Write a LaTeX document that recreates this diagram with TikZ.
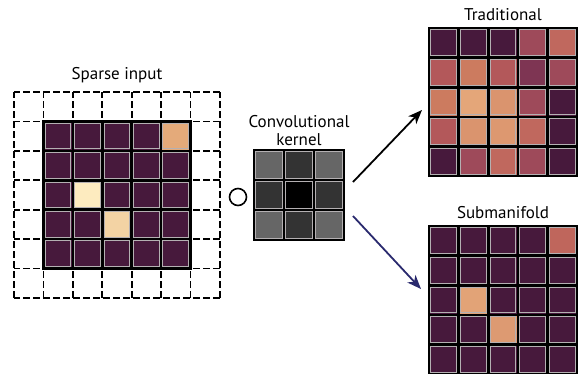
\documentclass[tikz,border=0pt]{standalone}
\usepackage{fontspec}
\setmainfont{PT Sans}
\usetikzlibrary{arrows.meta}
\definecolor{dp}{HTML}{47193C}
\definecolor{sorange}{HTML}{E4AA7A}
\definecolor{syellow}{HTML}{FDEBBF}
\definecolor{speach}{HTML}{F3D3A4}
\definecolor{ta}{HTML}{9E4A5A}
\definecolor{tb}{HTML}{C0685E}
\definecolor{tc}{HTML}{B3585A}
\definecolor{td}{HTML}{CC7B5F}
\definecolor{te}{HTML}{7E3553}
\definecolor{tf}{HTML}{E4A679}
\definecolor{tg}{HTML}{DA946E}
\definecolor{th}{HTML}{DD9870}
\definecolor{ma}{HTML}{BF665C}
\definecolor{mb}{HTML}{E2A377}
\definecolor{mc}{HTML}{DD9A72}
\definecolor{kg}{HTML}{666666}
\definecolor{kd}{HTML}{333333}
\definecolor{cellgray}{HTML}{B4B0B2}
\definecolor{navy}{HTML}{2A2A6E}
\tikzset{
  cellborder/.style={draw=cellgray, line width=1pt},
  gridline/.style={line width=2.6pt, black, line cap=rect},
  dashgrid/.style={line width=1.8pt, black, dash pattern=on 6.5pt off 3.5pt, dash phase=1pt},
  lbl/.style={font=\fontsize{17}{19}\selectfont, inner sep=0pt},
  arr/.style={line width=1.8pt, -{Stealth[length=14pt,width=11pt,inset=4pt]}}
}
\newcommand\cellgrid[5]{% x0, y0, size, n, colours row-major
  \foreach \c [count=\k from 0] in {#5} {
    \pgfmathtruncatemacro\ix{mod(\k,#4)}
    \pgfmathtruncatemacro\iy{div(\k,#4)}
    \fill[\c] ({#1+\ix*#3},{#2+\iy*#3}) rectangle ++(#3,#3);
    \draw[cellborder] ({#1+\ix*#3+1.9},{#2+\iy*#3+1.9}) rectangle ++({#3-3.8},{#3-3.8});
  }
  \foreach \i in {0,...,#4} {
    \draw[gridline] ({#1+\i*#3},#2) -- ({#1+\i*#3},{#2+#4*#3});
    \draw[gridline] (#1,{#2+\i*#3}) -- ({#1+#4*#3},{#2+\i*#3});
  }
}
\begin{document}
\begin{tikzpicture}[x=1pt,y=-1pt]
\useasboundingbox (0,0) rectangle (579,373);
% sparse input dashed frame
\foreach \i in {0,...,7} {
  \draw[dashgrid] ({14+\i*29.4},92) -- ({14+\i*29.4},297.8);
  \draw[dashgrid] (14,{92+\i*29.4}) -- (219.8,{92+\i*29.4});
}
\cellgrid{43.4}{121.4}{29.4}{5}{dp,dp,dp,dp,sorange,
  dp,dp,dp,dp,dp,
  dp,syellow,dp,dp,dp,
  dp,dp,speach,dp,dp,
  dp,dp,dp,dp,dp}
\node[lbl] (sparse) at (117,75) {Sparse input};
% operator
\node[circle, draw, line width=1.6pt, minimum size=17pt, inner sep=0pt] (op) at (238,197) {};
% kernel
\cellgrid{254}{150}{30}{3}{kg,kd,kg,kd,black,kd,kg,kd,kg}
\node[lbl] (conv) at (299,122) {Convolutional};
\node[lbl] (kern) at (299,140) {kernel};
% traditional
\cellgrid{429}{28}{29.6}{5}{dp,dp,dp,ta,tb,
  tc,td,tc,te,ta,
  td,tf,tg,ta,dp,
  tc,tg,th,tb,dp,
  dp,ta,tb,ta,dp}
\node[lbl] (trad) at (503,15) {Traditional};
% submanifold
\cellgrid{429}{226}{29.6}{5}{dp,dp,dp,dp,ma,
  dp,dp,dp,dp,dp,
  dp,mb,dp,dp,dp,
  dp,dp,mc,dp,dp,
  dp,dp,dp,dp,dp}
\node[lbl] (subm) at (503,213) {Submanifold};
% arrows
\coordinate (a1s) at (353,182);
\coordinate (a1e) at (422,110);
\coordinate (a2s) at (353,216);
\coordinate (a2e) at (421,289);
\draw[arr] (a1s) -- (a1e);
\draw[arr, navy] (a2s) -- (a2e);
\end{tikzpicture}
\end{document}
